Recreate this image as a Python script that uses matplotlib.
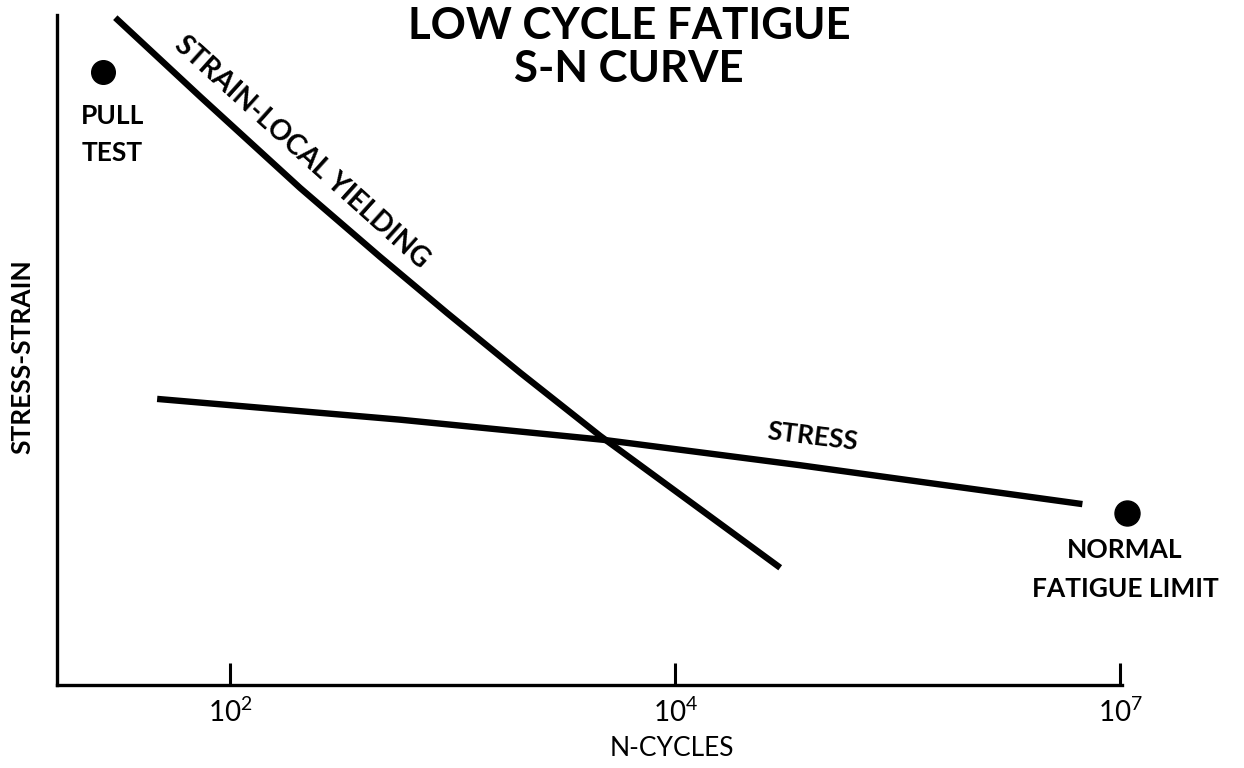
import matplotlib
matplotlib.use("Agg")
import matplotlib.pyplot as plt

# schematic positions: 1 -> 10^2, 2 -> 10^4, 3 -> 10^7 (evenly spaced in the drawing)
tickPos = [1, 2, 3]
tickLabels = ["$\\mathregular{10^2}$", "$\\mathregular{10^4}$", "$\\mathregular{10^7}$"]

# strain - local yielding curve (x in tick units, y arbitrary 0..10)
strainX = [0.742, 0.933, 1.157, 1.337, 1.488, 1.652, 1.831, 2.236]
strainY = [9.96, 8.78, 7.42, 6.39, 5.55, 4.66, 3.72, 1.75]

# stress curve
stressX = [0.836, 1.382, 1.838, 2.281, 2.915]
stressY = [4.27, 3.96, 3.66, 3.28, 2.70]

# single points
pullX, pullY = 0.715, 9.15
fatigueX, fatigueY = 3.015, 2.57

plt.rcParams['font.family'] = ['Lato', 'DejaVu Sans']

W, H = 1244, 768
fig = plt.figure(figsize=(W / 100, H / 100), dpi=100)
ax = fig.add_axes([57 / W, 1 - 685 / H, (1122 - 57) / W, (685 - 15) / H])
ax.set_xlim(0.611, 3.004)
ax.set_ylim(0, 10)

ax.plot(strainX, strainY, color="black", lw=4.6, solid_capstyle="butt",
        solid_joinstyle="round")
ax.plot(stressX, stressY, color="black", lw=4.6, solid_capstyle="butt",
        solid_joinstyle="round")
ax.plot([pullX], [pullY], "o", color="black", ms=17, clip_on=False)
ax.plot([fatigueX], [fatigueY], "o", color="black", ms=18, clip_on=False)

lblFont = dict(fontsize=19, fontweight="bold", color="black")
ax.text(0.735, 8.49, "PULL", ha="center", va="center", **lblFont)
ax.text(0.735, 7.94, "TEST", ha="center", va="center", **lblFont)
ax.text(3.011, 2.01, "NORMAL", ha="center", va="center", **lblFont)
ax.text(3.011, 1.43, "FATIGUE LIMIT", ha="center", va="center", **lblFont)
ax.text(2.308, 3.70, "STRESS", ha="center", va="center", rotation=-7,
        rotation_mode="anchor", **lblFont)
ax.text(1.16, 7.95, "STRAIN-LOCAL YIELDING", ha="center", va="center",
        rotation=-42, rotation_mode="anchor", fontsize=20, fontweight="bold")

for s in ["top", "right"]:
    ax.spines[s].set_visible(False)
ax.spines["left"].set_linewidth(2.4)
ax.spines["bottom"].set_linewidth(2.4)
ax.set_yticks([])
ax.set_xticks(tickPos)
ax.set_xticklabels(tickLabels)
ax.tick_params(axis="x", direction="in", length=16, width=2.2, pad=9, labelsize=20)

fig.text(629 / W, 1 - 26 / H, "LOW CYCLE FATIGUE", ha="center", va="center",
         fontsize=31.5, fontweight="bold")
fig.text(629 / W, 1 - 69 / H, "S-N CURVE", ha="center", va="center",
         fontsize=31.5, fontweight="bold")
fig.text(22 / W, 1 - 357 / H, "STRESS-STRAIN", ha="center", va="center",
         rotation=90, fontsize=19, fontweight="bold")
fig.text(672 / W, 1 - 748 / H, "N-CYCLES", ha="center", va="center", fontsize=19)

fig.savefig("out.png", dpi=100)
